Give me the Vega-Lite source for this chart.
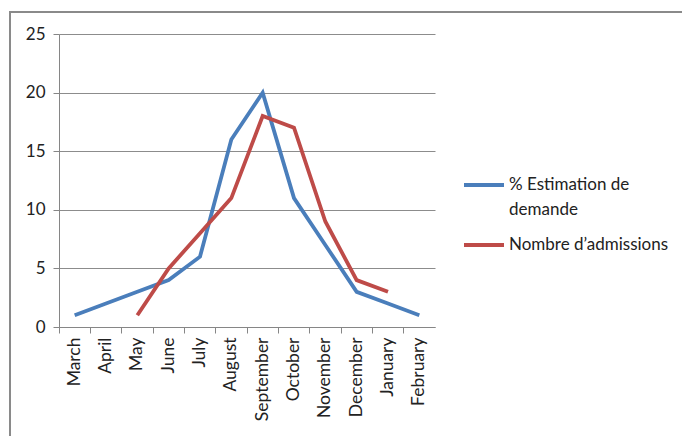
{
  "$schema": "https://vega.github.io/schema/vega-lite/v6.json",
  "width": 672,
  "height": 424,
  "autosize": {"type": "none"},
  "padding": {"left": 10, "top": 12, "right": 0, "bottom": 0},
  "background": "white",
  "config": {
    "view": {"stroke": "#8a8a8a", "strokeWidth": 2, "strokeDash": [672, 1096, 424]},
    "font": "Lato",
    "style": {"guide-label": {"lineHeight": 25}},
    "axis": {"labelFont": "Lato", "labelFontSize": 17, "labelColor": "#222222", "domainColor": "#868686", "tickColor": "#868686", "gridColor": "#8c8c8c", "tickSize": 6}
  },
  "data": {
    "values": [
      {"month": "March", "series": "% Estimation de demande", "value": 1},
      {"month": "April", "series": "% Estimation de demande", "value": 2},
      {"month": "May", "series": "% Estimation de demande", "value": 3},
      {"month": "June", "series": "% Estimation de demande", "value": 4},
      {"month": "July", "series": "% Estimation de demande", "value": 6},
      {"month": "August", "series": "% Estimation de demande", "value": 16},
      {"month": "September", "series": "% Estimation de demande", "value": 20},
      {"month": "October", "series": "% Estimation de demande", "value": 11},
      {"month": "November", "series": "% Estimation de demande", "value": 7},
      {"month": "December", "series": "% Estimation de demande", "value": 3},
      {"month": "January", "series": "% Estimation de demande", "value": 2},
      {"month": "February", "series": "% Estimation de demande", "value": 1},
      {"month": "May", "series": "Nombre d’admissions", "value": 1},
      {"month": "June", "series": "Nombre d’admissions", "value": 5},
      {"month": "July", "series": "Nombre d’admissions", "value": 8},
      {"month": "August", "series": "Nombre d’admissions", "value": 11},
      {"month": "September", "series": "Nombre d’admissions", "value": 18},
      {"month": "October", "series": "Nombre d’admissions", "value": 17},
      {"month": "November", "series": "Nombre d’admissions", "value": 9},
      {"month": "December", "series": "Nombre d’admissions", "value": 4},
      {"month": "January", "series": "Nombre d’admissions", "value": 3}
    ]
  },
  "mark": {"type": "line", "strokeWidth": 3.8, "strokeJoin": "miter"},
  "encoding": {
    "x": {
      "field": "month",
      "type": "ordinal",
      "bandPosition": 0.5,
      "sort": ["March", "April", "May", "June", "July", "August", "September", "October", "November", "December", "January", "February"],
      "scale": {"type": "band", "paddingInner": 0, "paddingOuter": 0, "range": [49, 425]},
      "axis": {"title": null, "offset": -109, "labelAngle": -90, "bandPosition": 0, "labelPadding": 4, "labelFontSize": 17.5, "grid": false, "labelBaseline": "middle", "labelAlign": "right"}
    },
    "y": {
      "field": "value",
      "type": "quantitative",
      "scale": {"domain": [0, 25], "nice": false, "range": [315, 22]},
      "axis": {"title": null, "offset": -49, "values": [0, 5, 10, 15, 20, 25], "grid": true, "labelPadding": 8}
    },
    "color": {
      "field": "series",
      "type": "nominal",
      "scale": {"domain": ["% Estimation de demande", "Nombre d’admissions"], "range": ["#4a7ebb", "#be4b48"]},
      "legend": {
        "title": null,
        "orient": "none",
        "legendX": 452,
        "legendY": 151,
        "symbolType": "stroke",
        "symbolSize": 1600,
        "symbolStrokeWidth": 3.8,
        "labelFont": "Lato",
        "labelFontSize": 17,
        "labelColor": "#222222",
        "labelOffset": 3,
        "labelLimit": 300,
        "rowPadding": 5,
        "labelExpr": "datum.label == '% Estimation de demande' ? ['% Estimation de', 'demande'] : datum.label"
      }
    }
  }
}
